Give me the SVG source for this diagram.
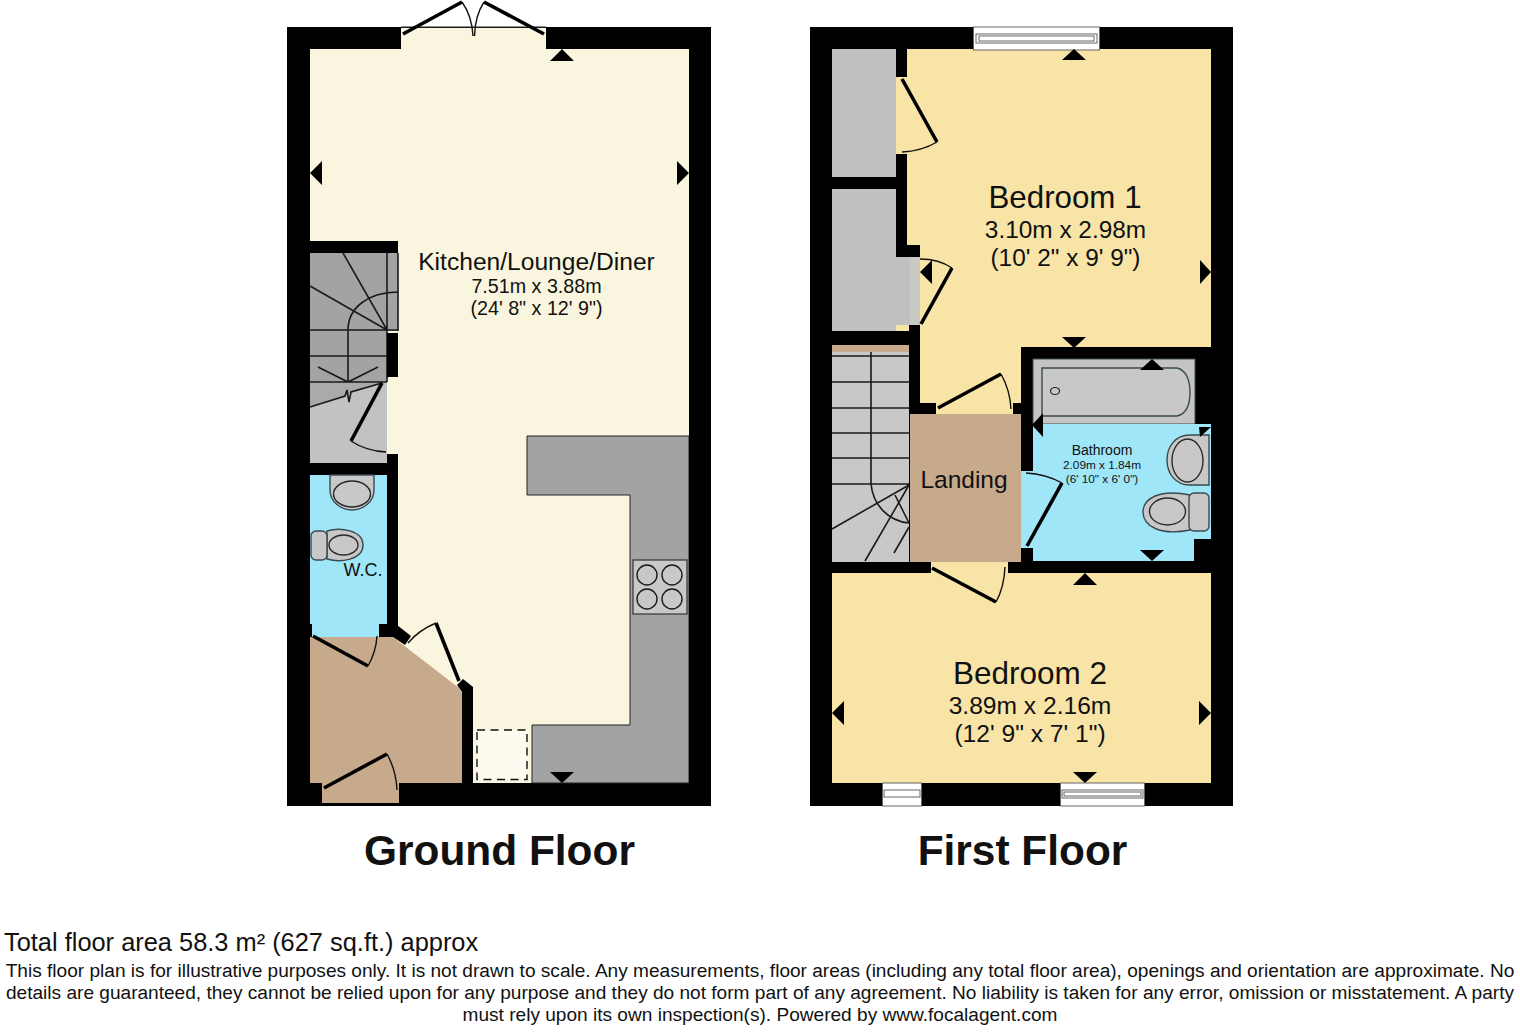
<svg xmlns="http://www.w3.org/2000/svg" width="1520" height="1032" viewBox="0 0 1520 1032">
<style>
text{font-family:"Liberation Sans",Arial,sans-serif;fill:#111;text-anchor:middle}
.leaf{stroke:#000;stroke-width:3.6;fill:none}
.arc{stroke:#111;stroke-width:1.4;fill:none}
.stair{stroke:#1a1a1a;stroke-width:1.6;fill:none}
.fix{fill:#c8c8c8;stroke:#3a4a50;stroke-width:1.4}
.in{fill:none;stroke:#2a2a2a;stroke-width:1.4}
.win{fill:#fff;stroke:#666;stroke-width:1}
.w{fill:#000}
.a{fill:#000}
</style>
<rect width="1520" height="1032" fill="#fff"/>

<g id="ground-floor">
  <rect x="287" y="27" width="424" height="779" fill="#000"/>
  <rect x="310" y="49" width="379" height="734" fill="#faf5de"/>
  <rect x="401" y="28" width="145" height="21" fill="#faf5de"/>
  <rect x="401" y="0" width="145" height="27" fill="#fff"/>
  <line x1="401" y1="27.2" x2="546" y2="27.2" stroke="#222" stroke-width="1.2"/>
  <!-- patio doors -->
  <path class="leaf" d="M403 34L462 2M544 34L484 2"/>
  <path class="arc" d="M462 2Q472 16 473 36M484 2Q475 16 474.500 36"/>

  <!-- stairs -->
  <g id="ground-stairs">
    <rect x="310" y="241" width="88" height="12" class="w"/>
    <rect x="310" y="253" width="77" height="129" fill="#a3a3a3"/>
    <rect x="387" y="253" width="11" height="78" fill="#a3a3a3"/>
    <rect x="310" y="382" width="77" height="81" fill="#c2c2c2"/>
    <path d="M310 382H387L351 393L310 407Z" fill="#aaa"/>
    <path class="stair" d="M310 330H398M310 356H387M310 382H387M387 253V382M398 253V331M348 382V330C348 308 368 292 398 292M387 330L343 253M387 330L310 286M318 367L348 382L378 367M310 407L345 396L347 390L349 402L351 392L382 383"/>
    <rect x="387" y="333" width="11" height="44" class="w"/>
    <path class="leaf" d="M382 383L351 441"/>
    <path class="arc" d="M351 441Q366 451 386 452"/>
  </g>
  <rect x="387" y="454" width="11" height="182" class="w"/>
  <rect x="310" y="463" width="88" height="12" class="w"/>

  <!-- WC -->
  <g id="wc">
    <rect x="310" y="475" width="77" height="162" fill="#9fe6f9"/>
    <path class="fix" d="M330 475V490C330 502 341 510 352 510C363 510 374 502 374 490V475Z"/>
    <ellipse class="in" cx="352" cy="494" rx="18.500" ry="13"/>
    <path class="fix" d="M327 531C340 527 363 530 363 545C363 560 340 563 327 559Z"/>
    <rect class="fix" x="311" y="531" width="16" height="29" rx="5"/>
    <ellipse class="in" cx="343.500" cy="545" rx="14.500" ry="10"/>
    <text x="363" y="576" font-size="18">W.C.</text>
  </g>
  <!-- Hall -->
  <g id="hall">
    <path d="M310 637H393L458 687L462 693V783H399V803H322V783H310Z" fill="#c6aa8b"/>
    <path d="M393 637L408 643L436 623L460 680L458 687Z" fill="#faf5de"/>
    <rect x="310" y="624" width="2" height="13" class="w"/>
    <rect x="379" y="624" width="19" height="13" class="w"/>
    <path class="w" d="M397 625L411 636L405 645L393 637H390V625Z"/>
    <path class="w" d="M457 685L463 679L473 687V783H462V692Z"/>
    <path class="leaf" d="M313 636L368 666M459 681L436 623M324 788L387 754"/>
    <path class="arc" d="M368 666Q376 652 377 636M436 623Q419 630 408 643M387 754Q396 770 397 790"/>
  </g>
  <rect x="477" y="730" width="50" height="49.500" fill="#fdfbef" stroke="#111" stroke-width="1.400" stroke-dasharray="8 5.500"/>
  <!-- kitchen counter -->
  <g id="kitchen">
    <path d="M527 436H689V783H532V725H630V495H527Z" fill="#a3a3a3" stroke="#222" stroke-width="1"/>
    <rect x="689" y="430" width="1" height="360" class="w"/>
    <rect x="633" y="560" width="54" height="54" fill="#c8c8c8" stroke="#333" stroke-width="1.200"/>
    <g fill="none" stroke="#1a1a1a" stroke-width="1.400">
      <circle cx="647" cy="575" r="10"/><circle cx="672" cy="575" r="10"/><circle cx="647" cy="599" r="10"/><circle cx="672" cy="599" r="10"/>
    </g>
    <text x="536.500" y="270" font-size="24.600">Kitchen/Lounge/Diner</text>
    <text x="536.500" y="293" font-size="19.700">7.51m x 3.88m</text>
    <text x="536.500" y="315" font-size="19.700">(24' 8" x 12' 9")</text>
  </g>
  <!-- arrows -->
  <path class="a" d="M562 49L574 61H550ZM310 173L322 161V185ZM689 173L677 161V185ZM562 783L550 772H574Z"/>
</g>

<g id="first-floor">
  <rect x="810" y="27" width="423" height="779" fill="#000"/>
  <!-- Bedroom 1 -->
  <g id="bedroom-1">
    <path d="M907 49H1211V348H1021V414H920V331H896V77H907Z" fill="#f7e4a6"/>
    <rect x="896" y="77" width="11" height="77" fill="#f7e4a6"/>
    <rect x="832" y="49" width="64" height="128" fill="#c0c0c0"/>
    <rect x="832" y="189" width="64" height="142" fill="#c0c0c0"/>
    <rect x="896" y="257" width="14" height="68" fill="#c0c0c0"/>
    <rect x="910" y="257" width="10" height="68" fill="#c9c9c6"/>
    <rect x="896" y="245" width="24" height="12" class="w"/>
    <rect x="896" y="154" width="11" height="91" class="w"/>
    <rect x="896" y="49" width="11" height="28" class="w"/>
    <rect x="909" y="325" width="11" height="8" class="w"/>
    <rect x="832" y="331" width="88" height="14" class="w"/>
    <path class="leaf" d="M902 79L937 142M921 324L952 268M938 408L1001 374"/>
    <path class="arc" d="M937 142Q922 151 902 152M952 268Q939 259 920 259M1001 374Q1010 390 1011 409"/>
    <text x="1065" y="208" font-size="31.300">Bedroom 1</text>
    <text x="1065.500" y="238" font-size="24.400">3.10m x 2.98m</text>
    <text x="1065.500" y="266" font-size="24.400">(10' 2" x 9' 9")</text>
  </g>
  <!-- Stairs -->
  <g id="first-stairs">
    <rect x="832" y="345" width="77" height="7" fill="#c6aa8b"/>
    <rect x="832" y="352" width="77" height="210" fill="#c8c8c8"/>
    <path class="stair" d="M832 356H909M832 382H909M832 408H909M832 433H909M832 458H909M832 484H909M871 352V484C873 505 888 521 909 523M909 485L832 529M909 485L865 561M895 495L909 523M894 553L909 527"/>
    <rect x="909" y="345" width="11" height="69" class="w"/>
    <rect x="909" y="403" width="27" height="11" class="w"/>
  </g>
  <!-- Landing -->
  <g id="landing">
    <rect x="910" y="414" width="111" height="148" fill="#c6aa8b"/>
    <rect x="1013" y="403" width="8" height="11" class="w"/>
    <text x="964" y="488" font-size="24.500">Landing</text>
  </g>
  <!-- Bathroom -->
  <g id="bathroom">
    <rect x="1021" y="347" width="190" height="215" class="w"/>
    <rect x="1033" y="359" width="162" height="65" fill="#c4c4c4" stroke="#3a4a50" stroke-width="1"/>
    <path d="M1033 424H1211V539H1194V561H1033Z" fill="#9fe6f9"/>
    <rect x="1021" y="471" width="12" height="77" fill="#9fe6f9"/>
    <path class="fix" d="M1042 368H1177C1186 370 1190 380 1190 392C1190 405 1186 414 1177 416H1042Z" stroke="#22303a"/>
    <ellipse cx="1055" cy="391" rx="4.500" ry="3.500" fill="none" stroke="#222" stroke-width="1.200"/>
    <path class="fix" d="M1209 435H1190C1175 435 1167 447 1167 460C1167 473 1175 485 1190 485H1209Z"/>
    <ellipse class="in" cx="1187.500" cy="460.500" rx="15.500" ry="21.500"/>
    <path class="fix" d="M1190 495C1160 489 1143 498 1143 512C1143 526 1160 536 1190 530Z"/>
    <rect class="fix" x="1189" y="493" width="20" height="38" rx="5"/>
    <ellipse class="in" cx="1167.500" cy="511.500" rx="18" ry="13.500"/>
    <path class="leaf" d="M1027 546L1062 483"/>
    <path class="arc" d="M1062 483Q1046 474 1026 473"/>
    <text x="1102" y="454.500" font-size="14">Bathroom</text>
    <text x="1102" y="469" font-size="11.800">2.09m x 1.84m</text>
    <text x="1102" y="483" font-size="11.800">(6' 10" x 6' 0")</text>
    <path class="a" d="M1152 359L1164 370H1140ZM1032 425L1043 413V437ZM1199 427H1211L1200 437ZM1152 561L1140 550H1164Z"/>
  </g>
  <!-- Bedroom 2 -->
  <g id="bedroom-2">
    <rect x="832" y="573" width="379" height="210" fill="#f7e4a6"/>
    <rect x="931" y="562" width="77" height="11" fill="#f7e4a6"/>
    <path class="leaf" d="M932 568L996 602"/>
    <path class="arc" d="M996 602Q1004 588 1005 567"/>
    <text x="1030" y="684" font-size="31.500">Bedroom 2</text>
    <text x="1030" y="714" font-size="24.600">3.89m x 2.16m</text>
    <text x="1030" y="742" font-size="24.600">(12' 9" x 7' 1")</text>
  </g>
  <!-- Windows -->
  <g id="windows">
    <rect class="win" x="973.500" y="27" width="126" height="23"/>
    <rect class="win" x="976" y="34" width="121" height="9"/>
    <rect class="win" x="979" y="36" width="115" height="5"/>
    <rect class="win" x="882.500" y="783" width="39" height="23"/>
    <rect class="win" x="884" y="790" width="36" height="7"/>
    <rect class="win" x="1060.500" y="783" width="84" height="23"/>
    <rect class="win" x="1062" y="790" width="81" height="8"/>
    <rect class="win" x="1064" y="792" width="77" height="4"/>
  </g>
  <!-- arrows -->
  <path class="a" d="M1074 49L1086 60H1062ZM1211 272L1200 260V284ZM920 272L932 260V284ZM1074 348L1062 337H1086ZM1085 573L1097 585H1073ZM832 713L844 701V725ZM1211 713L1199 701V725ZM1085 783L1073 772H1097Z"/>
</g>

<g id="titles">
  <text x="499.500" y="865" font-size="42.400" font-weight="700">Ground Floor</text>
  <text x="1022.500" y="865" font-size="42.400" font-weight="700">First Floor</text>
</g>
<g id="footer">
  <text x="4" y="951" font-size="25.400" style="text-anchor:start">Total floor area 58.3 m² (627 sq.ft.) approx</text>
  <text x="760" y="977" font-size="19.080">This floor plan is for illustrative purposes only. It is not drawn to scale. Any measurements, floor areas (including any total floor area), openings and orientation are approximate. No</text>
  <text x="760" y="999" font-size="19.080">details are guaranteed, they cannot be relied upon for any purpose and they do not form part of any agreement. No liability is taken for any error, omission or misstatement. A party</text>
  <text x="760" y="1021" font-size="19.080">must rely upon its own inspection(s). Powered by www.focalagent.com</text>
</g>
</svg>
